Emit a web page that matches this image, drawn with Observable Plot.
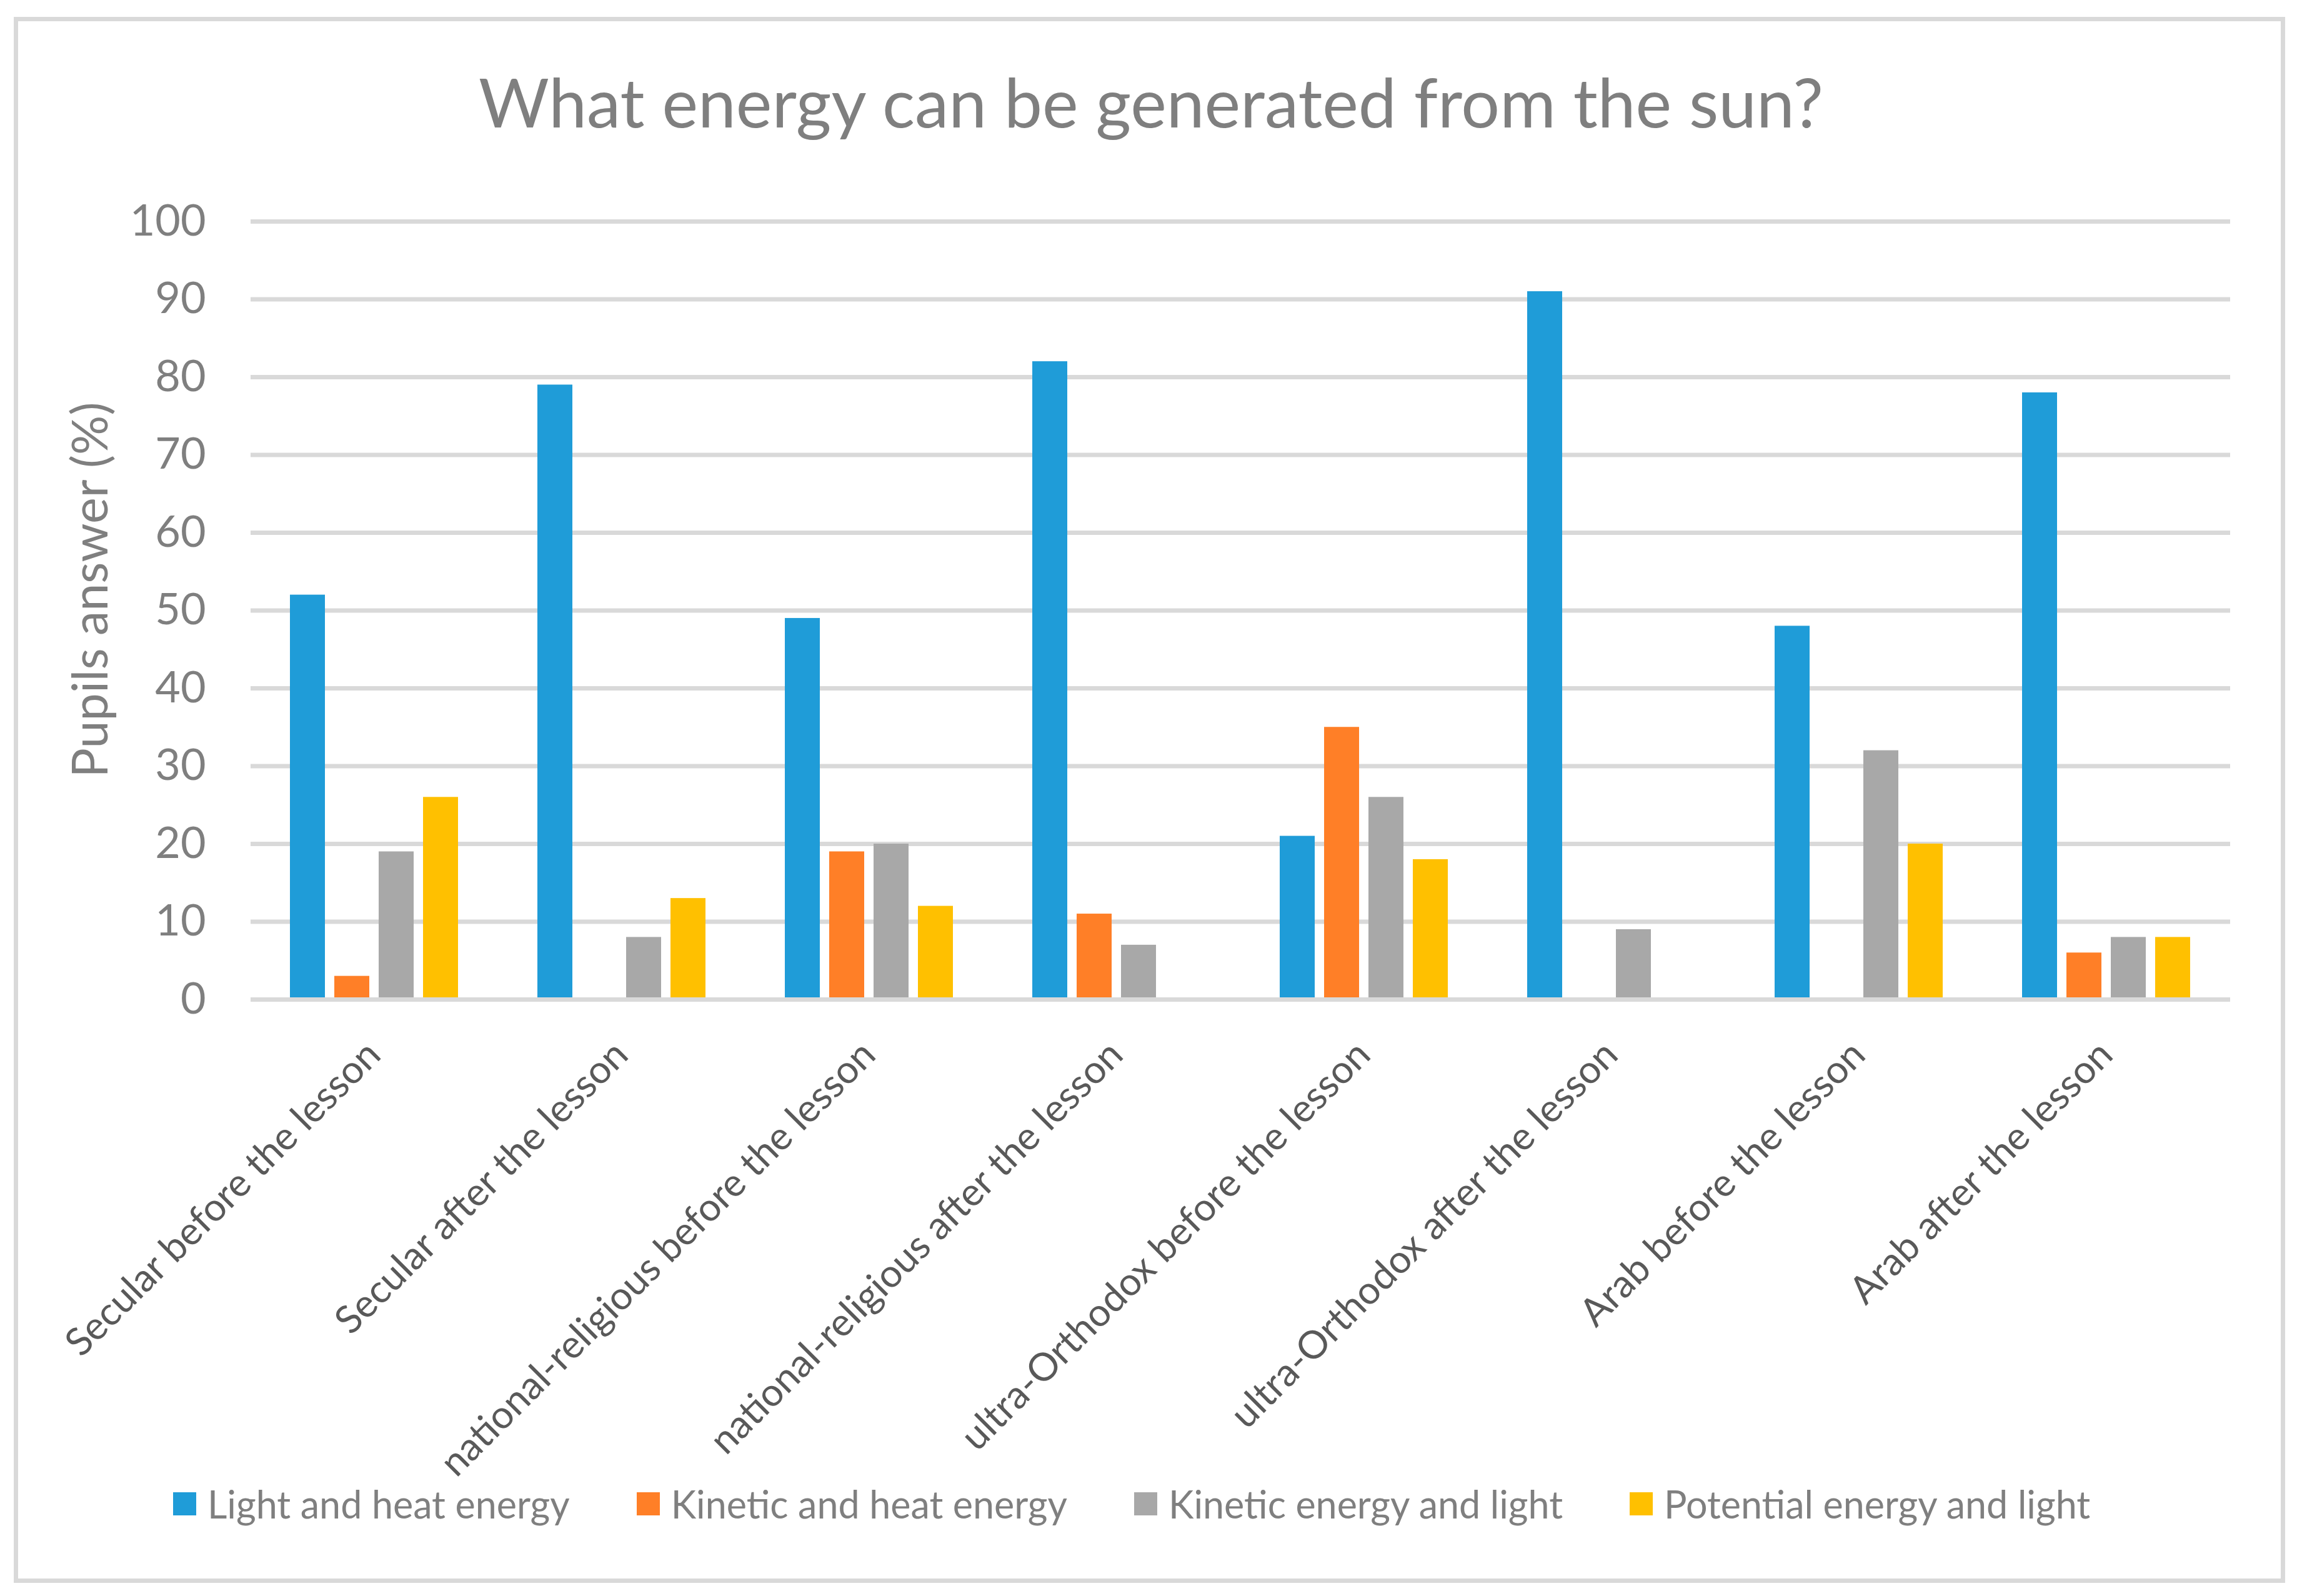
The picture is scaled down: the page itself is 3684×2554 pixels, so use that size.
<!DOCTYPE html>
<html>
<head>
<meta charset="utf-8">
<script src="https://cdn.jsdelivr.net/npm/d3@7"></script>
<script src="https://cdn.jsdelivr.net/npm/@observablehq/plot@0.6"></script>
<style>
  html, body { margin: 0; padding: 0; background: #fff; }
  #wrap { position: relative; width: 3684px; height: 2554px; overflow: hidden; font-family: Lato, "Open Sans", sans-serif; background: #fff; }
  #frame { position: absolute; left: 22px; top: 27px; width: 3635px; height: 2506px; box-sizing: border-box; border: 7px solid #d9d9d9; pointer-events: none; }
  #title { position: absolute; left: 0; width: 3684px; top: 107px; text-align: center; font-size: 109px; line-height: 1; color: #7f7f7f; white-space: nowrap; }
  #ylabel { position: absolute; left: 172px; top: 944px; width: 0; height: 0; }
  #ylabel span { position: absolute; left: 0; top: 0; transform-origin: 0 0; transform: rotate(-90deg) translate(-50%, -0.887em); font-size: 79px; line-height: 1; color: #7f7f7f; white-space: nowrap; }
  #legend { position: absolute; left: 277px; top: 2376px; display: flex; align-items: center; gap: 107px; font-size: 61px; line-height: 1; color: #7f7f7f; white-space: nowrap; }
  #legend .item { display: flex; align-items: center; }
  #legend .sw { width: 37px; height: 37px; margin-right: 18px; }
  #chart { position: absolute; left: 0; top: 0; }
</style>
</head>
<body>
<div id="wrap">
  <div id="chart"></div>
  <div id="title"></div>
  <div id="ylabel"><span></span></div>
  <div id="legend"></div>
  <div id="frame"></div>
</div>
<script>
const titleText = "What energy can be generated from the sun?";
const yTitle = "Pupils answer (%)";
const categories = [
  "Secular before the lesson",
  "Secular after the lesson",
  "national-religious before the lesson",
  "national-religious after the lesson",
  "ultra-Orthodox before the lesson",
  "ultra-Orthodox after the lesson",
  "Arab before the lesson",
  "Arab after the lesson"
];
const series = [
  "Light and heat energy",
  "Kinetic and heat energy",
  "Kinetic energy and light",
  "Potential energy and light"
];
const colors = ["#1f9cd8", "#ff7f27", "#a8a8a8", "#ffc000"];
const lightHeat     = [52, 79, 49, 82, 21, 91, 48, 78];
const kineticHeat   = [3, 0, 19, 11, 35, 0, 0, 6];
const kineticLight  = [19, 8, 20, 7, 26, 9, 32, 8];
const potentialLight= [26, 13, 12, 0, 18, 0, 20, 8];
const yTicks = [0, 10, 20, 30, 40, 50, 60, 70, 80, 90, 100];

const seriesValues = [lightHeat, kineticHeat, kineticLight, potentialLight];
const data = [];
categories.forEach((c, i) => {
  series.forEach((s, j) => {
    data.push({category: c, series: s, value: seriesValues[j][i]});
  });
});

document.getElementById("title").textContent = titleText;
document.querySelector("#ylabel span").textContent = yTitle;
const legend = document.getElementById("legend");
series.forEach((s, j) => {
  const item = document.createElement("div");
  item.className = "item";
  const sw = document.createElement("div");
  sw.className = "sw";
  sw.style.background = colors[j];
  const t = document.createElement("span");
  t.textContent = s;
  item.appendChild(sw);
  item.appendChild(t);
  legend.appendChild(item);
});

const chart = Plot.plot({
  width: 3684,
  height: 2554,
  marginLeft: 398,
  marginRight: 113,
  marginTop: 354,
  marginBottom: 955,
  style: {fontFamily: "Lato, 'Open Sans', sans-serif", background: "transparent"},
  fx: {domain: categories, paddingInner: 0, paddingOuter: 0, label: null},
  x: {domain: series, paddingInner: 0.2083, paddingOuter: 0.858, axis: null},
  y: {domain: [0, 100], label: null},
  color: {domain: series, range: colors},
  marks: [
    Plot.ruleY(yTicks, {y: d => d, stroke: "#d9d9d9", strokeWidth: 7}),
    Plot.barY(data, {fx: "category", x: "series", y: "value", fill: "series"}),
    Plot.ruleY([0], {stroke: "#d9d9d9", strokeWidth: 7}),
    Plot.axisY({ticks: yTicks, tickSize: 0, tickPadding: 72, fontSize: 70, fill: "#7f7f7f", label: null}),
    Plot.axisFx({anchor: "bottom", tickSize: 0, tickRotate: -45, tickPadding: 92, dx: 13,
      textAnchor: "end", lineAnchor: "bottom", fontSize: 62, fill: "#595959", label: null})
  ]
});
document.getElementById("chart").appendChild(chart);
</script>
</body>
</html>
